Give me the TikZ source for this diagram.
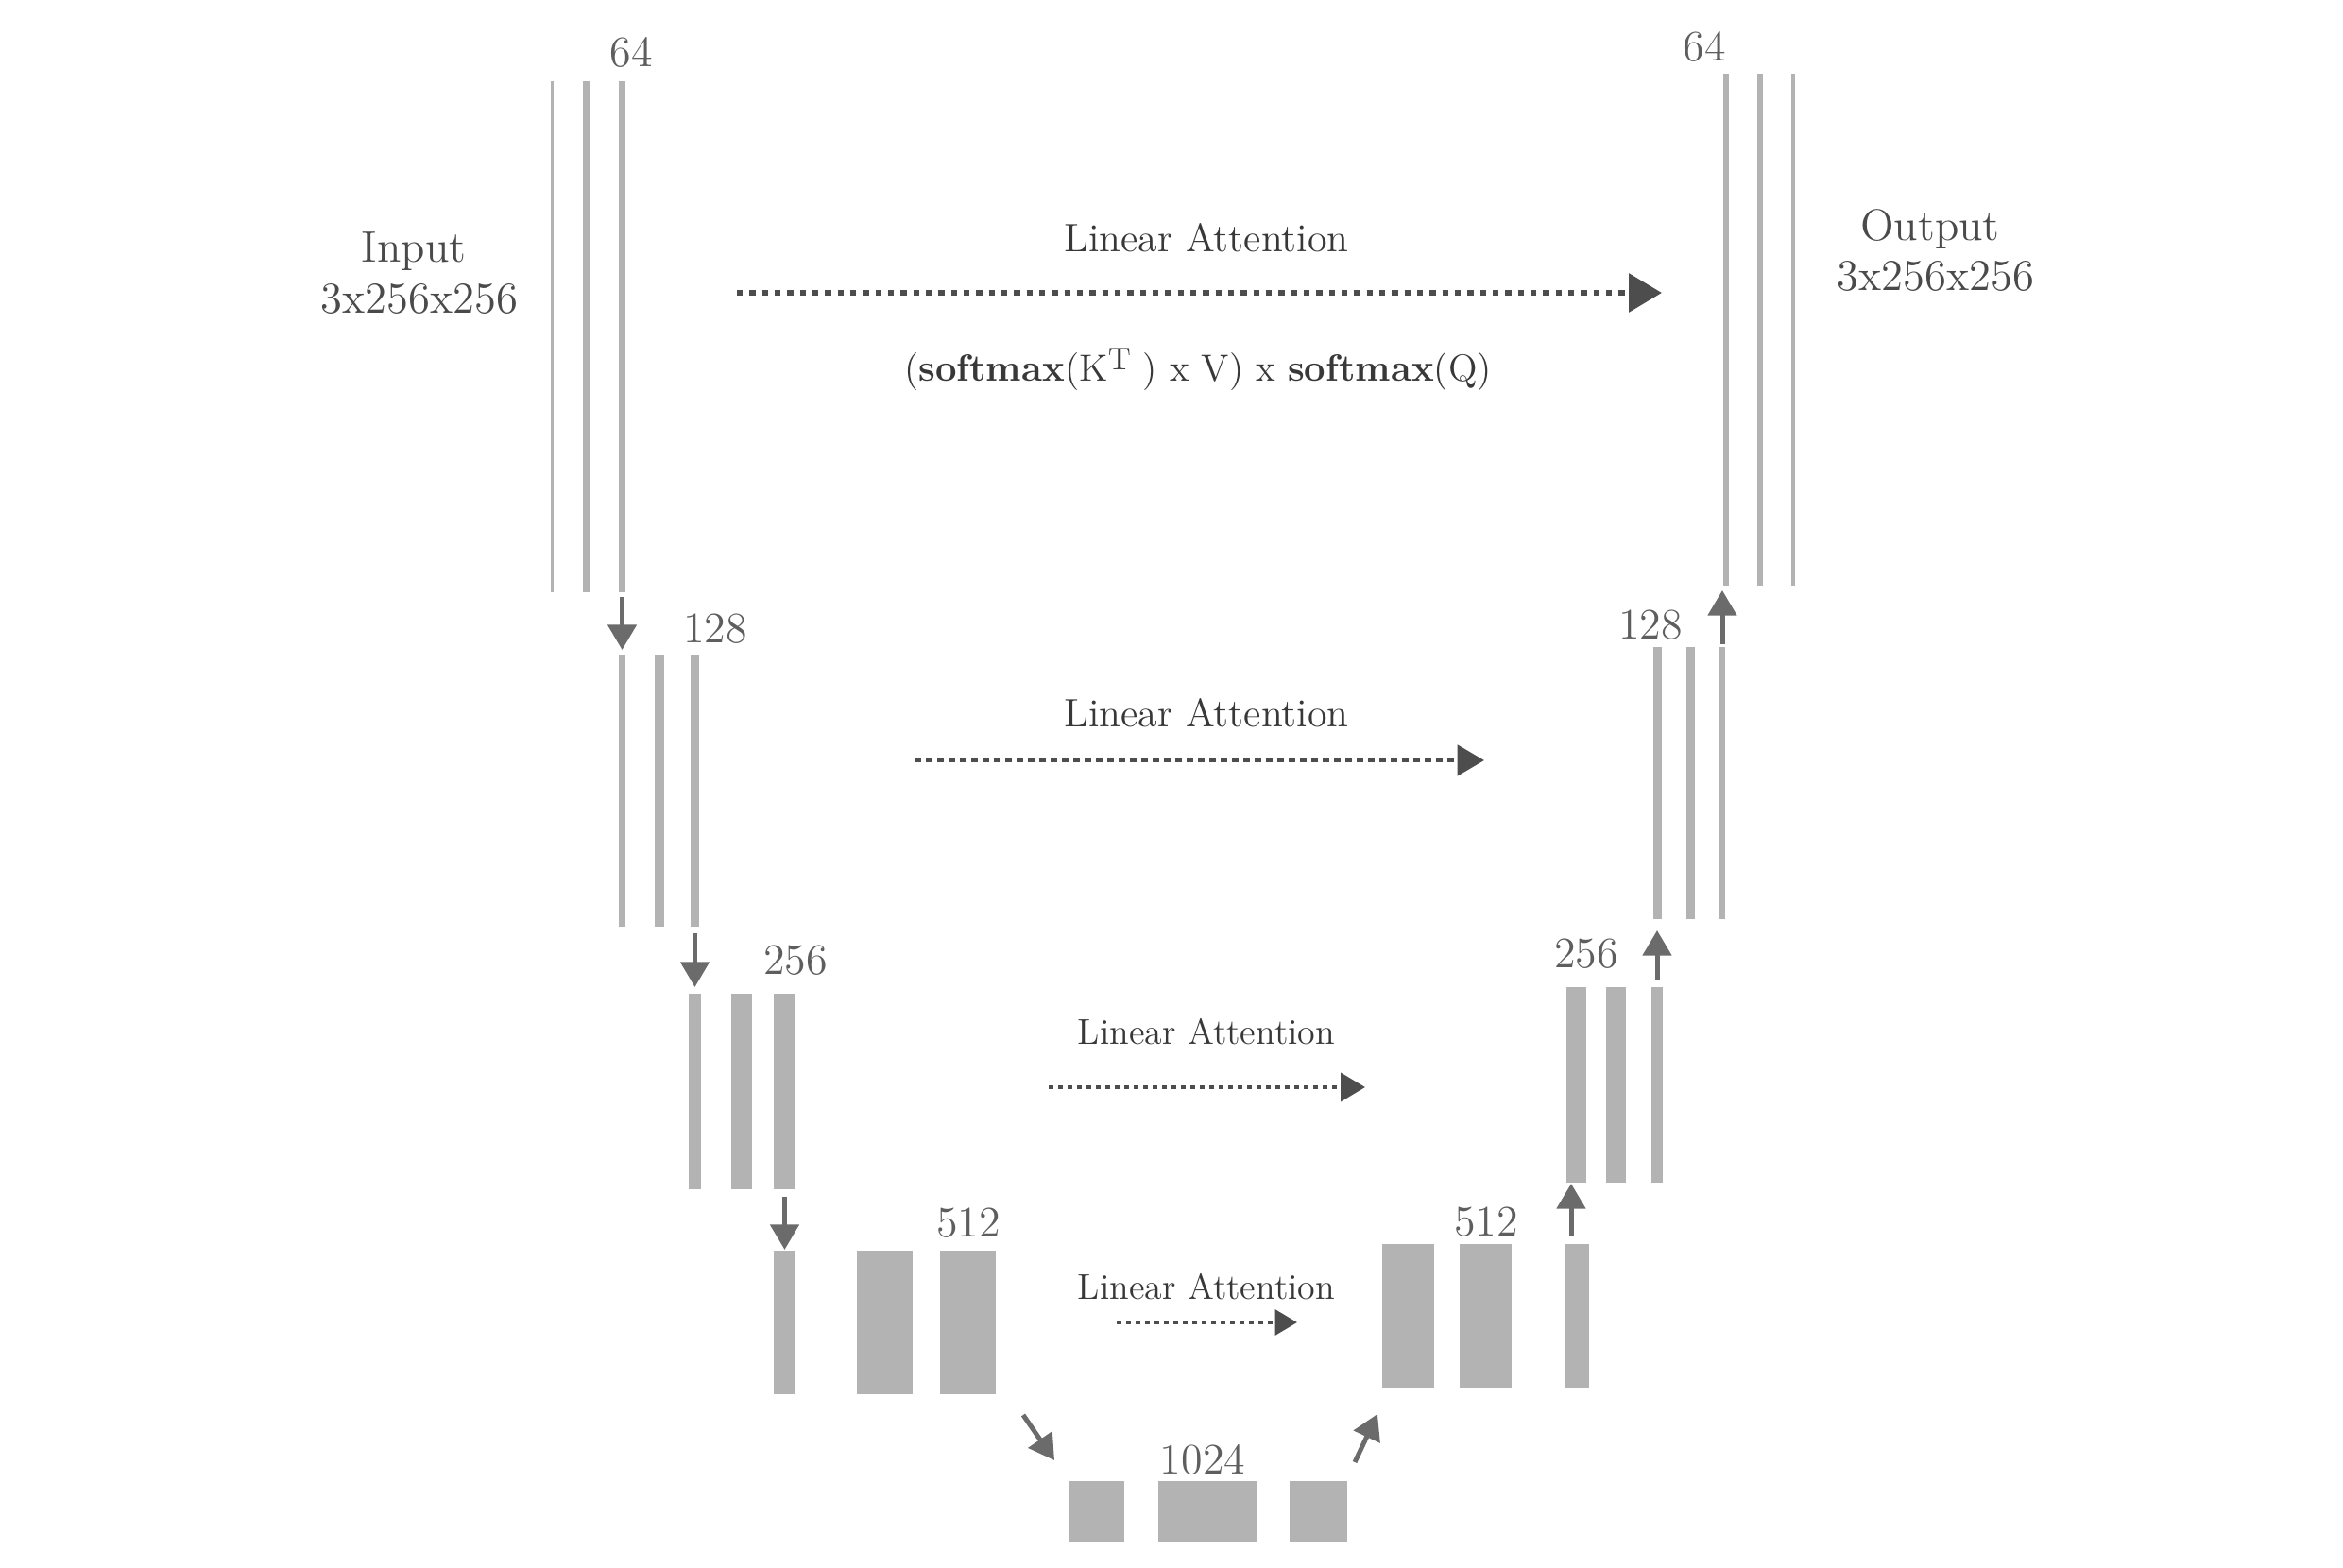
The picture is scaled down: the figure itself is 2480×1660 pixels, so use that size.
\documentclass[tikz,border=0pt]{standalone}
\usetikzlibrary{arrows.meta}
\definecolor{bargray}{HTML}{B3B3B3}
\definecolor{arrgray}{HTML}{6B6B6B}
\definecolor{dotgray}{HTML}{4D4D4D}
\definecolor{txtgray}{HTML}{4A4A4A}
\definecolor{numgray}{HTML}{5E5E5E}
\definecolor{attgray}{HTML}{383838}
\newcommand\mybar[5]{\node[bar,minimum width={(#3-#2)*0.3pt},minimum height={(#5-#4)*0.3pt}] (#1) at ({(#2+#3)/2},{(#4+#5)/2}) {};}
\begin{document}
\begin{tikzpicture}[x=0.3pt,y=-0.3pt,
  bar/.style={fill=bargray,draw=none,inner sep=0pt,outer sep=0pt},
  iolabel/.style={text=txtgray,inner sep=0pt,anchor=base,font=\fontsize{14pt}{16pt}\selectfont},
  numlabel/.style={text=numgray,inner sep=0pt,anchor=base,font=\fontsize{13.8pt}{16pt}\selectfont},
  attbig/.style={text=attgray,inner sep=0pt,anchor=base,font=\fontsize{12.6pt}{15pt}\selectfont},
  attsmall/.style={text=attgray,inner sep=0pt,anchor=base,font=\fontsize{11.4pt}{14pt}\selectfont},
  formula/.style={text=attgray,inner sep=0pt,anchor=base,font=\fontsize{12pt}{14pt}\selectfont},
  updown/.style={draw=arrgray,line width=1.5pt,-{Triangle[width=9pt,length=8pt]}},
  dotA/.style={draw=dotgray,line width=1.9pt,dash pattern=on 1.9pt off 2.1pt,-{Triangle[width=12pt,length=10.5pt]}},
  dotB/.style={draw=dotgray,line width=1.4pt,dash pattern=on 2pt off 1.6pt,-{Triangle[width=9.6pt,length=8.5pt]}},
  dotC/.style={draw=dotgray,line width=1.2pt,dash pattern=on 1.6pt off 1.4pt,-{Triangle[width=9pt,length=7.8pt]}},
  dotD/.style={draw=dotgray,line width=1.2pt,dash pattern=on 1.6pt off 1.4pt,-{Triangle[width=8pt,length=7pt]}}
]
\useasboundingbox (0,0) rectangle (2480,1660);

% encoder level 1
\mybar{l1a}{583}{586}{86}{627}
\mybar{l1b}{617}{624}{86}{627}
\mybar{l1c}{655}{662}{86}{627}
% encoder level 2
\mybar{l2a}{655}{662}{693}{981}
\mybar{l2b}{693}{703}{693}{981}
\mybar{l2c}{731}{740}{693}{981}
% encoder level 3
\mybar{l3a}{729}{742}{1052}{1259}
\mybar{l3b}{774}{796}{1052}{1259}
\mybar{l3c}{819}{842}{1052}{1259}
% encoder level 4
\mybar{l4a}{819}{842}{1324}{1476}
\mybar{l4b}{907}{966}{1324}{1476}
\mybar{l4c}{995}{1054}{1324}{1476}
% bottleneck
\mybar{b1}{1131}{1190}{1568}{1632}
\mybar{b2}{1226}{1330}{1568}{1632}
\mybar{b3}{1365}{1426}{1568}{1632}
% decoder level 4
\mybar{r4a}{1463}{1518}{1317}{1469}
\mybar{r4b}{1545}{1600}{1317}{1469}
\mybar{r4c}{1656}{1682}{1317}{1469}
% decoder level 3
\mybar{r3a}{1658}{1679}{1045}{1252}
\mybar{r3b}{1700}{1721}{1045}{1252}
\mybar{r3c}{1748}{1760}{1045}{1252}
% decoder level 2
\mybar{r2a}{1750}{1759}{685}{973}
\mybar{r2b}{1785}{1794}{685}{973}
\mybar{r2c}{1820}{1826}{685}{973}
% decoder level 1
\mybar{r1a}{1824}{1830}{78}{620}
\mybar{r1b}{1860}{1866}{78}{620}
\mybar{r1c}{1896}{1900}{78}{620}

% channel labels
\node[numlabel] (n64l) at (668,71) {64};
\node[numlabel] (n128l) at (757,681) {128};
\node[numlabel] (n256l) at (842,1032) {256};
\node[numlabel] (n512l) at (1025,1310) {512};
\node[numlabel] (n1024) at (1273,1561) {1024};
\node[numlabel] (n512r) at (1573,1309) {512};
\node[numlabel] (n256r) at (1679,1025) {256};
\node[numlabel] (n128r) at (1747,677) {128};
\node[numlabel] (n64r) at (1804,65) {64};

% input / output
\node[iolabel] (inp) at (438,278) {Input};
\node[iolabel] (inps) at (444,332) {3x256x256};
\node[iolabel] (outp) at (2043,255) {Output};
\node[iolabel] (outps) at (2049,308) {3x256x256};

% down arrows
\draw[updown,shorten <=1.5pt,shorten >=1.5pt] (l1c.south) -- (l1c.south |- l2a.north);
\draw[updown,shorten <=2.1pt,shorten >=2.1pt] (l2c.south) -- (l2c.south |- l3a.north);
\draw[updown,shorten <=2.4pt,shorten >=0.3pt] (l3c.south) -- (l3c.south |- l4a.north);
\coordinate (dn1) at (1083,1498);
\coordinate (dn2) at (1116,1546);
\draw[updown] (dn1) -- (dn2);
% up arrows
\coordinate (up1) at (1434,1548);
\coordinate (up2) at (1458,1497);
\draw[updown] (up1) -- (up2);
\draw[updown,shorten <=2.7pt,shorten >=0.3pt] ([xshift=-1.8pt]r4c.north) -- ([xshift=-1.8pt]r4c.north |- r3a.south);
\draw[updown,shorten <=2.1pt,shorten >=3.6pt] (r3c.north) -- (r3c.north |- r2a.south);
\draw[updown,shorten <=0.9pt,shorten >=1.5pt] (r2c.north) -- (r2c.north |- r1a.south);

% linear attention skip connections
\node[attbig] (att1) at (1277,267) {Linear Attention};
\coordinate (s1) at (780,310);
\coordinate (e1) at (1759,310);
\draw[dotA] (s1) -- (e1);
\node[formula] (form) at (1268,404) {(\textbf{softmax}(K\raisebox{0.75ex}{\fontsize{10pt}{10pt}\selectfont T}\ ) x V) x \textbf{softmax}(Q)};

\node[attbig] (att2) at (1277,770) {Linear Attention};
\coordinate (s2) at (968,805);
\coordinate (e2) at (1571,805);
\draw[dotB] (s2) -- (e2);

\node[attsmall] (att3) at (1277,1106) {Linear Attention};
\coordinate (s3) at (1110,1151);
\coordinate (e3) at (1445,1151);
\draw[dotC] (s3) -- (e3);

\node[attsmall] (att4) at (1277,1376) {Linear Attention};
\coordinate (s4) at (1182,1400);
\coordinate (e4) at (1373,1400);
\draw[dotD] (s4) -- (e4);
\end{tikzpicture}
\end{document}
